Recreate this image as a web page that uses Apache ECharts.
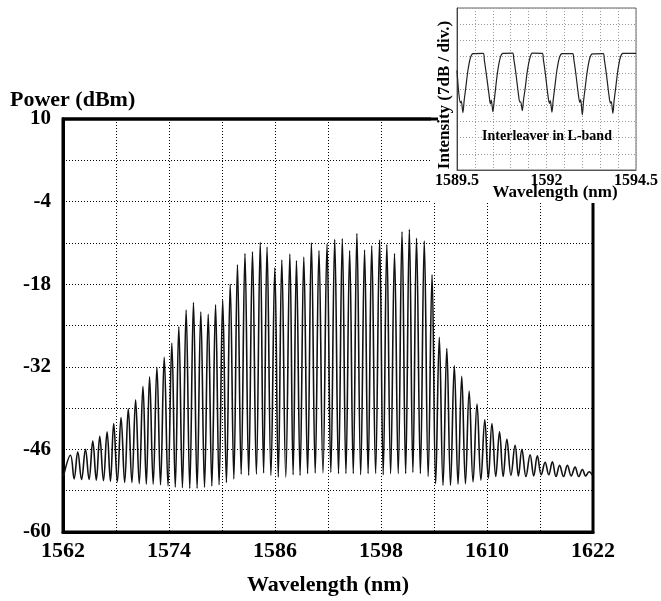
<!DOCTYPE html>
<html>
<head>
<meta charset="utf-8">
<script src="https://cdn.jsdelivr.net/npm/echarts@6/dist/echarts.min.js"></script>
<style>
html,body{margin:0;padding:0;background:#fff;}
#c{width:661px;height:601px;}
</style>
</head>
<body>
<div id="c"></div>
<script>
// ---------- main spectrum ----------
const peakWl = [1562.85,1563.67,1564.54,1565.37,1566.16,1566.99,1567.74,1568.57,1569.39,1570.22,
1571.05,1571.80,1572.63,1573.46,1574.32,1575.11,1575.94,1576.77,1577.60,1578.44,
1579.27,1580.08,1580.93,1581.75,1582.60,1583.45,1584.33,1585.10,1585.98,1586.77,
1587.68,1588.43,1589.26,1590.12,1590.98,1591.89,1592.76,1593.62,1594.45,1595.27,
1596.14,1596.95,1597.84,1598.66,1599.53,1600.38,1601.21,1602.02,1602.90,1603.78,
1604.60,1605.45,1606.30,1607.14,1607.98,1608.87,1609.75,1610.56,1611.42,1612.25,
1613.18,1613.95,1614.88,1615.70,1616.58,1617.40,1618.22,1619.10,1619.97,1620.80,1621.55];
const peakDb = [-47.0,-46.4,-46.0,-44.6,-43.8,-43.0,-41.6,-40.6,-39.1,-37.6,
-35.3,-33.7,-32.1,-30.4,-28.0,-25.2,-22.4,-21.1,-22.7,-23.1,
-21.5,-20.7,-18.0,-14.7,-12.8,-12.5,-10.9,-11.7,-15.2,-13.9,
-12.9,-14.0,-13.4,-11.0,-12.3,-11.2,-10.4,-10.3,-12.3,-9.4,
-12.2,-11.5,-10.5,-11.3,-12.8,-9.1,-8.7,-10.2,-10.7,-16.4,
-27.0,-28.9,-31.8,-33.6,-36.1,-38.3,-41.0,-41.6,-43.0,-44.3,
-45.3,-46.0,-46.9,-47.1,-48.2,-48.1,-48.7,-48.7,-49.0,-49.4,-49.8];
const troughWl = [1562.05,1563.26,1564.10,1564.95,1565.77,1566.58,1567.37,1568.15,1568.98,1569.80,
1570.63,1571.43,1572.21,1573.04,1573.89,1574.71,1575.52,1576.35,1577.18,1578.02,
1578.85,1579.67,1580.50,1581.34,1582.17,1583.02,1583.89,1584.71,1585.54,1586.37,
1587.22,1588.05,1588.84,1589.69,1590.55,1591.43,1592.32,1593.19,1594.03,1594.86,
1595.70,1596.54,1597.39,1598.25,1599.09,1599.95,1600.79,1601.61,1602.46,1603.34,
1604.19,1605.02,1605.87,1606.72,1607.56,1608.42,1609.31,1610.15,1610.99,1611.83,
1612.71,1613.56,1614.41,1615.29,1616.14,1616.99,1617.81,1618.66,1619.53,1620.38,
1621.17,1621.95];
const troughDb = [-50.6,-51.0,-51.1,-51.1,-51.2,-51.3,-51.4,-51.5,-51.6,-51.6,
-51.8,-51.9,-51.9,-52.0,-52.2,-52.4,-52.5,-52.6,-52.6,-52.4,
-52.2,-52.0,-51.6,-51.0,-50.2,-50.4,-50.2,-50.0,-50.4,-50.7,
-50.7,-50.3,-50.4,-50.1,-50.0,-50.0,-49.9,-50.1,-50.1,-50.1,
-50.3,-50.1,-50.1,-50.3,-50.1,-50.1,-50.1,-49.9,-50.1,-50.6,
-51.8,-52.1,-52.1,-51.9,-51.8,-51.5,-51.2,-50.9,-50.6,-50.6,
-50.4,-50.5,-50.6,-50.5,-50.3,-50.3,-50.6,-50.6,-50.5,-50.6,
-50.5,-50.4];
const xTickLabels = [1562,1574,1586,1598,1610,1622];
const yTickLabels = [10,-4,-18,-32,-46,-60];

// ---------- inset: interleaver transmission ----------
const insetWl = [1589.500,1589.555,1589.595,1589.620,1589.665,1589.700,1589.745,1589.805,1589.875,1589.945,
1590.233,1590.263,1590.323,1590.393,1590.433,1590.458,1590.503,1590.538,1590.583,1590.643,1590.713,1590.783,
1591.054,1591.084,1591.144,1591.214,1591.254,1591.279,1591.324,1591.359,1591.404,1591.464,1591.534,1591.604,
1591.882,1591.912,1591.972,1592.042,1592.082,1592.107,1592.152,1592.187,1592.232,1592.292,1592.362,1592.432,
1592.730,1592.760,1592.820,1592.890,1592.930,1592.955,1593.000,1593.035,1593.080,1593.140,1593.210,1593.280,
1593.584,1593.614,1593.674,1593.744,1593.784,1593.809,1593.854,1593.889,1593.934,1593.994,1594.064,1594.134,1594.500];
const insetDb = [43.0,32.5,29.0,29.8,24.8,30.0,35.5,43.0,48.5,50.3,
50.4,47.6,41.0,32.8,28.6,30.2,25.2,29.6,36.0,43.4,48.8,50.4,
50.5,48.2,41.9,33.0,29.4,29.5,25.6,30.4,35.2,42.6,48.2,50.5,
50.4,47.8,41.2,32.0,28.8,30.0,25.0,30.2,35.8,43.2,48.6,50.3,
50.3,48.1,41.6,32.6,29.2,30.4,23.8,29.8,35.4,42.8,48.4,50.2,
50.3,47.9,41.3,32.4,28.9,29.6,24.5,30.1,35.6,43.1,48.7,50.4,50.4];
const insetXTickLabels = [1589.5,1592,1594.5];

// ---------- build ----------
const X0 = 1562, Y0 = -60;   // axis origins (ticks counted from 0)
const mainData = [];
for (let i = 0; i < troughWl.length; i++) {
  mainData.push([troughWl[i] - X0, troughDb[i] - Y0]);
  if (i < peakWl.length) mainData.push([peakWl[i] - X0, peakDb[i] - Y0]);
}
const insetData = insetWl.map((w, i) => [w, insetDb[i]]);

const FONT = '"Liberation Serif", "Times New Roman", serif';
const chart = echarts.init(document.getElementById('c'), null, {renderer: 'canvas'});
chart.setOption({
  animation: false,
  backgroundColor: '#fff',
  grid: [
    {left: 63, top: 119, width: 530, height: 413, show: true, borderColor: '#000', borderWidth: 3, backgroundColor: 'transparent'},
    {left: 457, top: 8, width: 191, height: 162, show: true, borderColor: '#666', borderWidth: 1, backgroundColor: '#fff', z: 15}
  ],
  xAxis: [
    {gridIndex: 0, type: 'value', min: 0, max: 60, interval: 6,
     axisLine: {show: true, onZero: false, lineStyle: {color: '#000', width: 3}},
     axisTick: {show: false},
     splitLine: {show: true, lineStyle: {color: '#000', width: 1, type: [1, 2]}},
     axisLabel: {margin: 8, color: '#000', fontFamily: FONT, fontWeight: 'bold', fontSize: 22,
       formatter: v => { const w = Math.round(v + X0); return xTickLabels.includes(w) ? String(w) : ''; }}},
    {gridIndex: 1, type: 'value', min: 1589.5, max: 1594.5, interval: 0.5, z: 20,
     axisLine: {show: true, onZero: false, lineStyle: {color: '#555', width: 1}},
     axisTick: {show: false},
     splitLine: {show: true, lineStyle: {color: '#999', width: 1, type: [1, 2]}},
     axisLabel: {margin: 3, color: '#000', fontFamily: FONT, fontWeight: 'bold', fontSize: 16,
       formatter: v => insetXTickLabels.some(t => Math.abs(t - v) < 1e-6) ? String(v) : ''}}
  ],
  yAxis: [
    {gridIndex: 0, type: 'value', min: 0, max: 70, interval: 7,
     axisLine: {show: true, onZero: false, lineStyle: {color: '#000', width: 3}},
     axisTick: {show: false},
     splitLine: {show: true, lineStyle: {color: '#000', width: 1, type: [1, 2]}},
     axisLabel: {margin: 12, color: '#000', fontFamily: FONT, fontWeight: 'bold', fontSize: 21,
       formatter: v => { const d = Math.round(v + Y0); return yTickLabels.includes(d) ? String(d) : ''; }}},
    {gridIndex: 1, type: 'value', min: 0, max: 70, interval: 7, z: 20,
     axisLine: {show: true, onZero: false, lineStyle: {color: '#444', width: 1}},
     axisTick: {show: false},
     axisLabel: {show: false},
     splitLine: {show: true, lineStyle: {color: '#999', width: 1, type: [1, 2]}}}
  ],
  series: [
    {type: 'line', xAxisIndex: 0, yAxisIndex: 0, data: mainData, showSymbol: false, smooth: 0.4,
     lineStyle: {color: '#111', width: 1.6}, z: 2},
    {type: 'line', xAxisIndex: 1, yAxisIndex: 1, data: insetData, showSymbol: false, smooth: 0.3,
     lineStyle: {color: '#222', width: 1.2}, z: 21}
  ],
  graphic: [
    {type: 'rect', shape: {x: 431, y: 0, width: 230, height: 203}, style: {fill: '#fff'}, z: 10, silent: true},
    {type: 'line', shape: {x1: 62, y1: 119, x2: 438, y2: 119}, style: {stroke: '#000', lineWidth: 3}, z: 11},
    {type: 'text', x: 10, y: 100, z: 30,
     style: {text: 'Power (dBm)', fill: '#000', font: 'bold 22px ' + FONT, align: 'left', verticalAlign: 'middle'}},
    {type: 'text', x: 328, y: 585, z: 30,
     style: {text: 'Wavelength (nm)', fill: '#000', font: 'bold 22px ' + FONT, align: 'center', verticalAlign: 'middle'}},
    {type: 'text', x: 445, y: 95, rotation: Math.PI / 2, z: 30,
     style: {text: 'Intensity (7dB / div.)', fill: '#000', font: 'bold 17px ' + FONT, align: 'center', verticalAlign: 'middle'}},
    {type: 'text', x: 555, y: 193, z: 30,
     style: {text: 'Wavelength (nm)', fill: '#000', font: 'bold 17px ' + FONT, align: 'center', verticalAlign: 'middle'}},
    {type: 'text', x: 547, y: 136, z: 30,
     style: {text: 'Interleaver in L-band', fill: '#000', font: 'bold 14px ' + FONT, align: 'center', verticalAlign: 'middle'}}
  ]
});
</script>
</body>
</html>
